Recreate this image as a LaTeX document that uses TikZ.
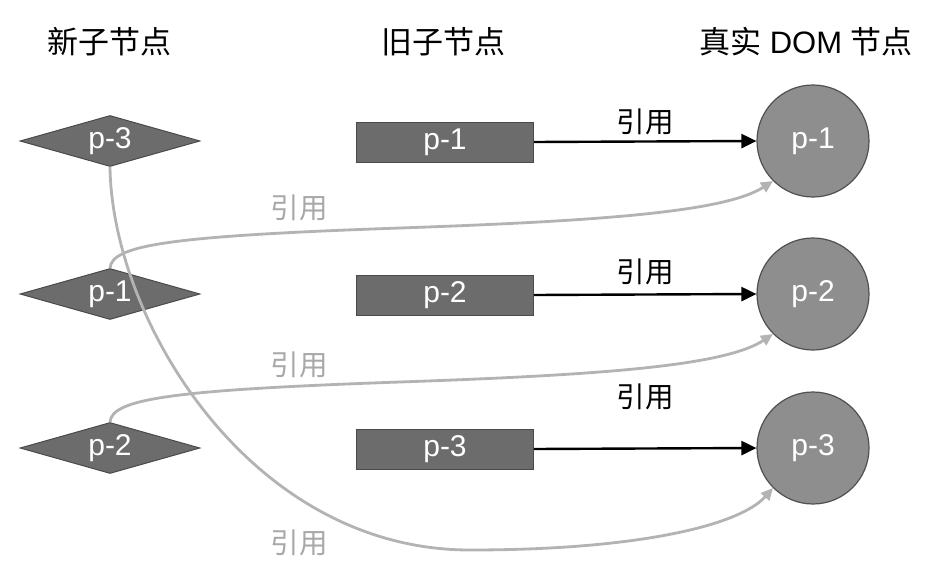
\documentclass[tikz,border=0pt]{standalone}
\usepackage{fontspec}
\setmainfont{Liberation Sans}
\newfontfamily\cjk{Noto Sans CJK SC}
\usetikzlibrary{shapes.geometric,arrows.meta}
\definecolor{boxfill}{HTML}{6C6C6C}
\definecolor{boxline}{HTML}{4A4A4A}
\definecolor{circfill}{HTML}{8E8E8E}
\definecolor{circline}{HTML}{505050}
\definecolor{reflink}{HTML}{B3B3B3}
\definecolor{reftext}{HTML}{A8A8A8}
\tikzset{
  header/.style={font=\fontsize{31}{36}\selectfont, text=black},
  newnode/.style={diamond, aspect=3.5, inner sep=0pt, minimum width=180pt, minimum height=51pt,
    fill=boxfill, draw=boxline, line width=1pt, text=white, font=\fontsize{30}{35}\selectfont},
  oldnode/.style={rectangle, inner sep=0pt, minimum width=177pt, minimum height=40pt,
    fill=boxfill, draw=boxline, line width=1pt, text=white, font=\fontsize{30}{35}\selectfont},
  domnode/.style={circle, inner sep=0pt, minimum size=112pt,
    fill=circfill, draw=circline, line width=1.2pt, text=white, font=\fontsize{30}{35}\selectfont},
  blacklink/.style={line width=2.4pt, draw=black, -{Triangle[length=15pt,width=14pt]}},
  graylink/.style={line width=2.8pt, draw=reflink, -{Triangle[length=12pt,width=11pt]}},
  blacklabel/.style={font=\fontsize{28.5}{33}\selectfont\cjk, text=black},
  graylabel/.style={font=\fontsize{28.5}{33}\selectfont\cjk, text=reftext},
}
\begin{document}
\begin{tikzpicture}[x=1pt,y=-1pt]
\useasboundingbox (0,0) rectangle (934,578);
\fill[white] (0,0) rectangle (934,578);

% headers
\node[header] (hnew) at (109,42) {\cjk 新子节点};
\node[header] (hold) at (443,42) {\cjk 旧子节点};
\node[header] (hdom) at (806,42) {{\cjk 真实} DOM {\cjk 节点}};

% new child nodes
\node[newnode] (n3) at (110,141) {p-3};
\node[newnode] (n1) at (110,294) {p-1};
\node[newnode] (n2) at (110,448) {p-2};

% old child nodes
\node[oldnode] (o1) at (445,142) {p-1};
\node[oldnode] (o2) at (445,295) {p-2};
\node[oldnode] (o3) at (445,449) {p-3};

% real DOM nodes
\node[domnode] (d1) at (813,141) {p-1};
\node[domnode] (d2) at (813,294) {p-2};
\node[domnode] (d3) at (813,448) {p-3};

% black references
\draw[blacklink] (o1.east) -- (d1.west);
\draw[blacklink] (o2.east) -- (d2.west);
\draw[blacklink] (o3.east) -- (d3.west);
\node[blacklabel] (l1) at (645,122) {引用};
\node[blacklabel] (l2) at (645,272) {引用};
\node[blacklabel] (l3) at (645,397) {引用};

% gray references
\draw[graylink] (n1.north) .. controls (112,245) and (170,236) .. (400,228)
   .. controls (600,221) and (725,212) .. (d1.south west);
\draw[graylink] (n2.north) .. controls (112,399) and (170,390) .. (400,382)
   .. controls (600,375) and (725,366) .. (d2.south west);
\draw[graylink] (n3.south) .. controls (112,320) and (250,550) .. (470,550)
   .. controls (640,550) and (740,525) .. (d3.south west);
\node[graylabel] (g1) at (299,208) {引用};
\node[graylabel] (g2) at (299,365) {引用};
\node[graylabel] (g3) at (299,543) {引用};
\end{tikzpicture}
\end{document}
